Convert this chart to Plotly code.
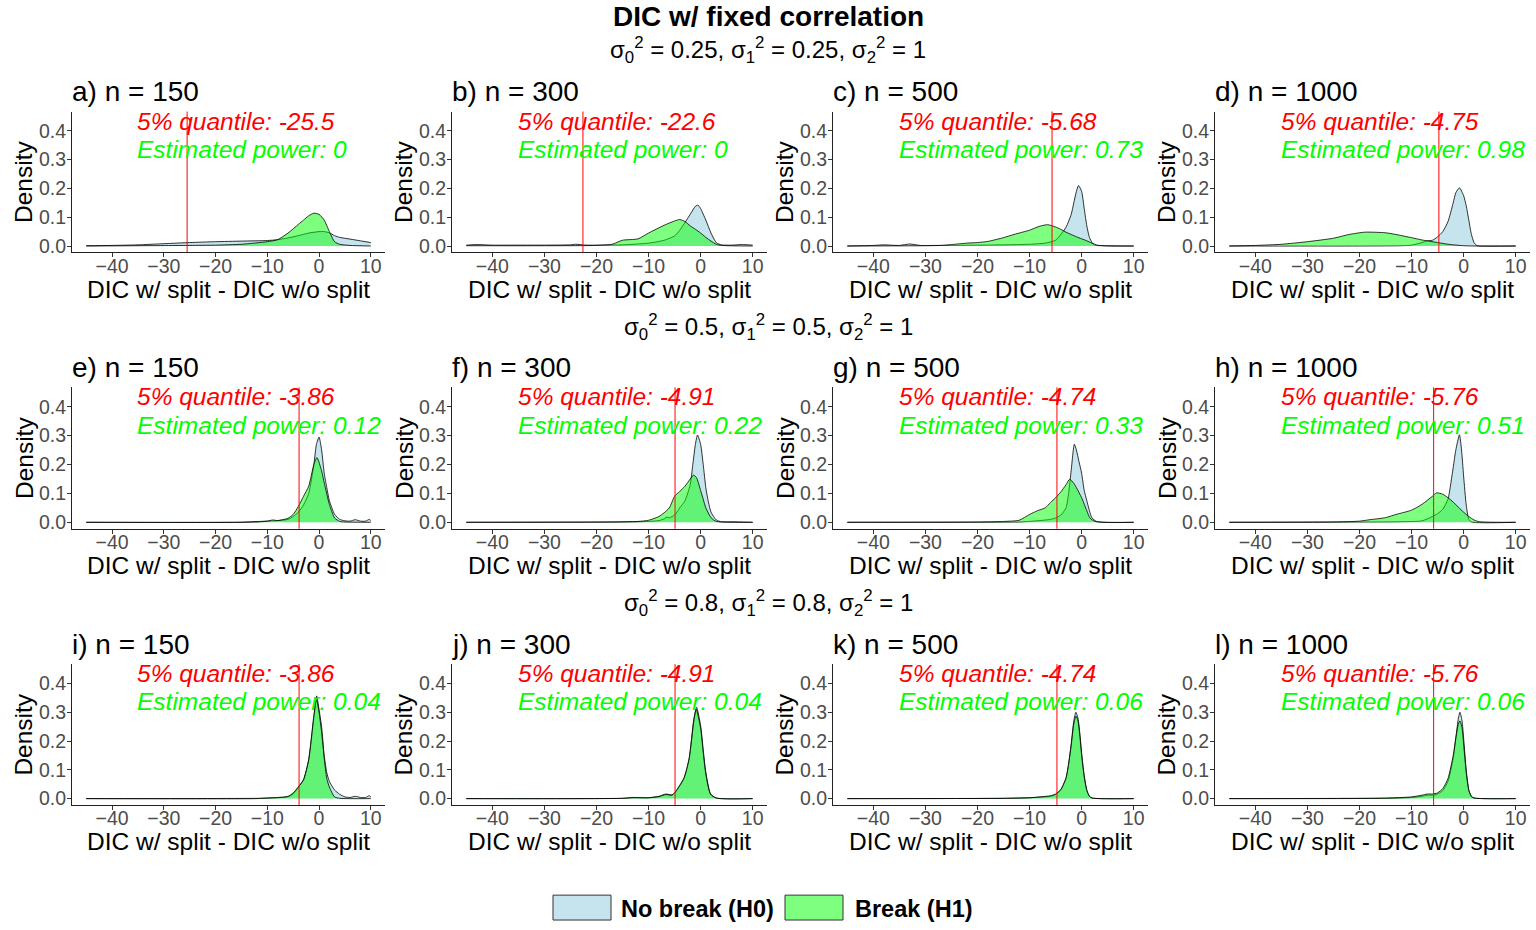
import plotly.graph_objects as go

# ---------------- data ----------------
panel_letters = ["a", "b", "c", "d", "e", "f", "g", "h", "i", "j", "k", "l"]
sample_sizes = [150, 300, 500, 1000]
row_sigma01 = ["0.25", "0.5", "0.8"]
sigma2_value = "1"
quantile_labels = ["-25.5", "-22.6", "-5.68", "-4.75", "-3.86", "-4.91",
                   "-4.74", "-5.76", "-3.86", "-4.91", "-4.74", "-5.76"]
power_labels = ["0", "0", "0.73", "0.98", "0.12", "0.22",
                "0.33", "0.51", "0.04", "0.04", "0.06", "0.06"]
x_ticks = [-40, -30, -20, -10, 0, 10]
y_ticks = [0.0, 0.1, 0.2, 0.3, 0.4]
y_tick_labels = ["0.0", "0.1", "0.2", "0.3", "0.4"]

# a) n = 150, sigma 0.25
h0_x_a = [-45, -40, -35, -30, -25, -20, -15, -10, -8, -6, -4, -2, 0, 1, 2, 3, 4, 6, 8, 10]
h0_y_a = [0.001, 0.002, 0.004, 0.008, 0.012, 0.015, 0.017, 0.019, 0.022, 0.028, 0.036, 0.045,
          0.05, 0.05, 0.046, 0.036, 0.03, 0.024, 0.018, 0.012]
h1_x_a = [-45, -35, -25, -20, -15, -12, -10, -8, -6, -4, -3, -2, -1, 0, 1, 2, 3, 4, 6, 10]
h1_y_a = [0.0, 0.001, 0.002, 0.003, 0.006, 0.011, 0.015, 0.022, 0.045, 0.075, 0.09, 0.105,
          0.114, 0.11, 0.09, 0.05, 0.015, 0.006, 0.002, 0.0]
# b) n = 300
h0_x_b = [-45, -43, -40, -35, -30, -25, -24, -22, -20, -15, -10, -7, -5, -4, -3, -2, -1, -0.5,
          0, 1, 2, 3, 4, 6, 8, 10]
h0_y_b = [0.003, 0.005, 0.003, 0.003, 0.003, 0.004, 0.006, 0.003, 0.003, 0.004, 0.01, 0.02,
          0.035, 0.055, 0.082, 0.11, 0.138, 0.142, 0.13, 0.09, 0.045, 0.012, 0.004, 0.003,
          0.005, 0.003]
h1_x_b = [-45, -30, -20, -17, -15, -12, -10, -7, -5, -4, -3, -2, -1, 0, 1, 2, 3, 4, 10]
h1_y_b = [0.001, 0.001, 0.002, 0.006, 0.02, 0.025, 0.045, 0.072, 0.087, 0.092, 0.085, 0.07,
          0.058, 0.045, 0.03, 0.017, 0.006, 0.002, 0.0]
# c) n = 500
h0_x_c = [-45, -40, -38, -35, -33, -31, -28, -25, -20, -15, -10, -7, -5, -4, -3, -2, -1.5, -1,
          -0.6, 0, 0.5, 1, 1.5, 2, 2.5, 5, 10]
h0_y_c = [0.0, 0.002, 0.004, 0.002, 0.007, 0.002, 0.002, 0.002, 0.003, 0.004, 0.006, 0.01,
          0.02, 0.04, 0.065, 0.11, 0.15, 0.19, 0.21, 0.19, 0.13, 0.07, 0.03, 0.012, 0.003,
          0.001, 0.0]
h1_x_c = [-45, -30, -27, -25, -22, -20, -18, -15, -13, -10, -8, -6.5, -5, -4, -3, -2, -1, 0,
          1, 2, 3, 5, 10]
h1_y_c = [0.0, 0.001, 0.002, 0.005, 0.01, 0.012, 0.016, 0.029, 0.04, 0.055, 0.069, 0.074,
          0.066, 0.058, 0.048, 0.04, 0.032, 0.025, 0.018, 0.01, 0.003, 0.0, 0.0]
# d) n = 1000
h0_x_d = [-45, -20, -12, -10, -8, -7, -6, -5, -4, -3, -2, -1.5, -0.8, 0, 0.5, 1, 1.5, 2, 2.5,
          3, 10]
h0_y_d = [0.0, 0.0, 0.001, 0.003, 0.012, 0.018, 0.02, 0.032, 0.05, 0.085, 0.15, 0.185, 0.202,
          0.175, 0.14, 0.09, 0.04, 0.012, 0.002, 0.0, 0.0]
h1_x_d = [-45, -40, -35, -30, -25, -22, -19, -15, -13, -10, -8, -5, -3, 0, 2, 10]
h1_y_d = [0.0, 0.002, 0.006, 0.015, 0.027, 0.04, 0.048, 0.046, 0.04, 0.029, 0.021, 0.012,
          0.006, 0.001, 0.0, 0.0]
# e) n = 150, sigma 0.5
h0_x_e = [-45, -15, -13, -10, -8, -6, -5, -4, -3, -2, -1, -0.5, 0, 0.5, 1, 1.5, 2, 3, 4, 5, 6,
          7, 8, 9, 9.7, 10]
h0_y_e = [0.0, 0.0, 0.002, 0.004, 0.006, 0.01, 0.02, 0.035, 0.06, 0.1, 0.2, 0.27, 0.295, 0.25,
          0.17, 0.12, 0.075, 0.028, 0.01, 0.005, 0.004, 0.009, 0.004, 0.004, 0.01, 0.006]
h1_x_e = [-45, -12, -10, -9, -8, -7, -6, -5, -4, -3, -2, -1, -0.4, 0.5, 1, 2, 3, 4, 5, 10]
h1_y_e = [0.0, 0.001, 0.004, 0.008, 0.006, 0.009, 0.014, 0.027, 0.055, 0.09, 0.125, 0.2,
          0.224, 0.178, 0.137, 0.062, 0.015, 0.003, 0.001, 0.0]
# f) n = 300
h0_x_f = [-45, -15, -10, -8, -7, -6.5, -6, -5, -4, -3, -2, -1.5, -1, -0.6, 0, 0.5, 1, 1.5, 2,
          3, 4, 6, 10]
h0_y_f = [0.0, 0.001, 0.003, 0.006, 0.012, 0.018, 0.016, 0.025, 0.05, 0.075, 0.13, 0.2, 0.27,
          0.302, 0.27, 0.2, 0.12, 0.07, 0.035, 0.008, 0.002, 0.002, 0.0]
h1_x_f = [-45, -18, -12, -10, -8, -7, -6, -5, -4, -3, -2, -1.4, -0.8, 0, 0.5, 1, 2, 3, 10]
h1_y_f = [0.0, 0.001, 0.003, 0.007, 0.02, 0.033, 0.05, 0.09, 0.107, 0.125, 0.15, 0.163,
          0.155, 0.11, 0.08, 0.05, 0.016, 0.003, 0.0]
# g) n = 500
h0_x_g = [-45, -12, -10, -8, -6, -5, -4, -3, -2.5, -2, -1.4, -1, -0.5, 0, 0.5, 1, 1.5, 2, 3, 10]
h0_y_g = [0.0, 0.001, 0.003, 0.006, 0.01, 0.015, 0.025, 0.05, 0.1, 0.18, 0.27, 0.25, 0.21,
          0.17, 0.11, 0.075, 0.04, 0.015, 0.002, 0.0]
h1_x_g = [-45, -20, -15, -12, -10, -8.5, -7, -6, -5, -4, -3, -2.3, -1.5, -1, 0, 1, 1.6, 2.6, 10]
h1_y_g = [0.0, 0.001, 0.003, 0.007, 0.027, 0.04, 0.05, 0.068, 0.085, 0.105, 0.13, 0.149,
          0.135, 0.12, 0.085, 0.04, 0.015, 0.003, 0.0]
# h) n = 1000
h0_x_h = [-45, -12, -8, -6, -5, -4, -3, -2.5, -2, -1.5, -0.8, -0.4, 0, 0.5, 1, 1.5, 10]
h0_y_h = [0.0, 0.002, 0.005, 0.02, 0.03, 0.045, 0.08, 0.13, 0.19, 0.25, 0.303, 0.25, 0.16,
          0.06, 0.01, 0.001, 0.0]
h1_x_h = [-45, -25, -20, -18, -15, -13, -10, -8, -6, -5.2, -4, -3, -2, -1, 0, 1, 2, 3, 10]
h1_y_h = [0.0, 0.001, 0.004, 0.009, 0.016, 0.027, 0.042, 0.062, 0.09, 0.102, 0.097, 0.085,
          0.07, 0.052, 0.035, 0.02, 0.008, 0.002, 0.0]
# i) n = 150, sigma 0.8
h0_x_i = [-45, -12, -10, -8, -6, -5, -4, -3, -2, -1, -0.45, 0, 0.5, 1, 1.5, 2, 3, 4, 5, 6, 7,
          8, 9, 9.7, 10]
h0_y_i = [0.0, 0.0, 0.002, 0.003, 0.006, 0.016, 0.04, 0.066, 0.135, 0.28, 0.357, 0.31, 0.25,
          0.15, 0.09, 0.06, 0.03, 0.015, 0.006, 0.004, 0.008, 0.004, 0.004, 0.01, 0.006]
h1_x_i = [-45, -12, -10, -8, -6, -5, -4, -3, -2, -1, -0.5, 0, 0.5, 1, 1.5, 2, 3, 4, 10]
h1_y_i = [0.0, 0.001, 0.002, 0.004, 0.008, 0.02, 0.04, 0.065, 0.135, 0.29, 0.345, 0.3, 0.23,
          0.14, 0.07, 0.04, 0.006, 0.001, 0.0]
# j) n = 300
h0_x_j = [-45, -15, -13, -10, -8, -6.7, -5.5, -4.8, -3.2, -2.2, -1.3, -0.77, 0, 0.5, 1, 1.9,
          3, 10]
h0_y_j = [0.0, 0.001, 0.004, 0.003, 0.008, 0.016, 0.013, 0.023, 0.069, 0.138, 0.277, 0.317,
          0.254, 0.17, 0.092, 0.017, 0.002, 0.0]
h1_x_j = [-45, -15, -13, -10, -8, -6.7, -5.5, -4.8, -3.2, -2.2, -1.3, -0.85, 0, 0.5, 1, 1.9,
          3, 10]
h1_y_j = [0.0, 0.001, 0.003, 0.003, 0.007, 0.014, 0.012, 0.025, 0.072, 0.14, 0.27, 0.31,
          0.245, 0.16, 0.085, 0.015, 0.002, 0.0]
# k) n = 500
h0_x_k = [-45, -15, -10, -8, -6, -5, -4, -3, -2.5, -2, -1.5, -1.1, -0.7, -0.3, 0, 0.5, 1, 1.5,
          2, 10]
h0_y_k = [0.0, 0.001, 0.003, 0.005, 0.008, 0.014, 0.03, 0.07, 0.12, 0.19, 0.27, 0.3, 0.28,
          0.22, 0.16, 0.08, 0.03, 0.008, 0.002, 0.0]
h1_x_k = [-45, -15, -10, -8, -6, -5, -4, -3, -2.5, -2, -1.5, -1.1, -0.7, -0.3, 0, 0.5, 1, 1.5,
          2, 10]
h1_y_k = [0.0, 0.001, 0.003, 0.006, 0.01, 0.016, 0.032, 0.072, 0.12, 0.185, 0.26, 0.287, 0.27,
          0.21, 0.15, 0.075, 0.028, 0.008, 0.002, 0.0]
# l) n = 1000
h0_x_l = [-45, -15, -10, -8, -7, -6, -5, -4, -3, -2, -1.5, -1, -0.7, -0.3, 0, 0.5, 1, 1.5, 2, 10]
h0_y_l = [0.0, 0.001, 0.004, 0.008, 0.012, 0.012, 0.016, 0.028, 0.06, 0.14, 0.21, 0.28, 0.3,
          0.27, 0.21, 0.1, 0.03, 0.008, 0.002, 0.0]
h1_x_l = [-45, -15, -10, -8, -7, -6, -5, -4, -3, -2, -1.5, -1, -0.7, -0.3, 0, 0.5, 1, 1.5, 2, 10]
h1_y_l = [0.0, 0.002, 0.006, 0.012, 0.016, 0.016, 0.02, 0.035, 0.07, 0.15, 0.21, 0.26, 0.27,
          0.245, 0.19, 0.09, 0.028, 0.007, 0.002, 0.0]

h0_x = [h0_x_a, h0_x_b, h0_x_c, h0_x_d, h0_x_e, h0_x_f, h0_x_g, h0_x_h, h0_x_i, h0_x_j, h0_x_k, h0_x_l]
h0_y = [h0_y_a, h0_y_b, h0_y_c, h0_y_d, h0_y_e, h0_y_f, h0_y_g, h0_y_h, h0_y_i, h0_y_j, h0_y_k, h0_y_l]
h1_x = [h1_x_a, h1_x_b, h1_x_c, h1_x_d, h1_x_e, h1_x_f, h1_x_g, h1_x_h, h1_x_i, h1_x_j, h1_x_k, h1_x_l]
h1_y = [h1_y_a, h1_y_b, h1_y_c, h1_y_d, h1_y_e, h1_y_f, h1_y_g, h1_y_h, h1_y_i, h1_y_j, h1_y_k, h1_y_l]

# ---------------- layout constants ----------------
W, H = 1536, 930
FONT = "Liberation Sans, Arial, sans-serif"
col_px = [(72, 385), (452, 767), (833, 1148), (1215, 1530)]
row_px = [(112, 253.5), (389, 531), (667, 808.5)]
subtitle_y = [50, 328, 606]
H0_FILL = "rgba(173,216,230,0.7)"
H1_FILL = "rgba(0,255,0,0.5)"


def px(x):
    return x / W


def py(y):
    return 1 - y / H


fig = go.Figure()
annotations = []
shapes = []
layout = {}

for k in range(12):
    r, c = divmod(k, 4)
    xa = "x" if k == 0 else f"x{k + 1}"
    ya = "y" if k == 0 else f"y{k + 1}"
    x0, x1 = col_px[c]
    y0, y1 = row_px[r]
    line_style = dict(color="black", width=0.8, shape="spline", smoothing=0.6)
    fig.add_trace(go.Scatter(x=h0_x[k], y=h0_y[k], mode="lines", line=line_style,
                             fill="tozeroy", fillcolor=H0_FILL, xaxis=xa, yaxis=ya,
                             showlegend=False, hoverinfo="skip"))
    fig.add_trace(go.Scatter(x=h1_x[k], y=h1_y[k], mode="lines", line=line_style,
                             fill="tozeroy", fillcolor=H1_FILL, xaxis=xa, yaxis=ya,
                             showlegend=False, hoverinfo="skip"))
    axis_common = dict(showgrid=False, zeroline=False, showline=True, linecolor="#222222",
                       linewidth=1, ticks="outside", ticklen=4, tickwidth=1,
                       tickcolor="#333333", tickfont=dict(family=FONT, size=19.5, color="#4D4D4D"))
    layout["xaxis" if k == 0 else f"xaxis{k + 1}"] = dict(
        domain=[px(x0), px(x1)], anchor=ya, range=[-47.75, 12.75], tickvals=x_ticks,
        ticklabelstandoff=-8, **axis_common)
    layout["yaxis" if k == 0 else f"yaxis{k + 1}"] = dict(
        domain=[py(y1), py(y0)], anchor=xa, range=[-0.02225, 0.46725], tickvals=y_ticks,
        ticktext=y_tick_labels, ticklabelstandoff=-3, **axis_common)
    q = float(quantile_labels[k])
    shapes.append(dict(type="line", xref=xa, yref=f"{ya} domain", x0=q, x1=q, y0=0, y1=1,
                       line=dict(color="red", width=1), layer="above"))
    annotations.append(dict(xref=xa, yref=ya, x=-35.5, y=0.434, xanchor="left", yanchor="middle",
                            text=f"<i>5% quantile: {quantile_labels[k]}</i>", showarrow=False,
                            font=dict(family=FONT, size=24.5, color="#FF0000")))
    annotations.append(dict(xref=xa, yref=ya, x=-35.5, y=0.336, xanchor="left", yanchor="middle",
                            text=f"<i>Estimated power: {power_labels[k]}</i>", showarrow=False,
                            font=dict(family=FONT, size=24.5, color="#00FF00")))
    # panel title
    annotations.append(dict(xref="paper", yref="paper", x=px(x0 - 2), y=py(y0 - 20),
                            xanchor="left", yanchor="middle", showarrow=False,
                            text=f"{panel_letters[k]}) n = {sample_sizes[c]}",
                            font=dict(family=FONT, size=28, color="black")))
    # axis titles
    annotations.append(dict(xref="paper", yref="paper", x=px((x0 + x1) / 2), y=py(y1 + 37),
                            xanchor="center", yanchor="middle", showarrow=False,
                            text="DIC w/ split - DIC w/o split",
                            font=dict(family=FONT, size=24.5, color="black")))
    annotations.append(dict(xref="paper", yref="paper", x=px(x0 - 48), y=py((y0 + y1) / 2),
                            xanchor="center", yanchor="middle", showarrow=False, textangle=-90,
                            text="Density", font=dict(family=FONT, size=24.5, color="black")))

# row subtitles
for r in range(3):
    s = row_sigma01[r]
    txt = (f"σ<sub>0</sub><sup>2</sup> = {s}, σ<sub>1</sub><sup>2</sup> = {s}, "
           f"σ<sub>2</sub><sup>2</sup> = {sigma2_value}")
    annotations.append(dict(xref="paper", yref="paper", x=0.5, y=py(subtitle_y[r]),
                            xanchor="center", yanchor="middle", showarrow=False, text=txt,
                            font=dict(family=FONT, size=24, color="black")))

# main title
annotations.append(dict(xref="paper", yref="paper", x=0.5, y=py(17), xanchor="center",
                        yanchor="middle", showarrow=False, text="<b>DIC w/ fixed correlation</b>",
                        font=dict(family=FONT, size=28, color="black")))

# legend (drawn as keys + labels)
legend_items = [("No break (H0)", H0_FILL, 553, 619), ("Break (H1)", H1_FILL, 785, 853)]
for label, color, kx, tx in legend_items:
    shapes.append(dict(type="rect", xref="paper", yref="paper", x0=px(kx), x1=px(kx + 58),
                       y0=py(924), y1=py(899), fillcolor=color,
                       line=dict(color="#333333", width=1)))
    annotations.append(dict(xref="paper", yref="paper", x=px(tx), y=py(913), xanchor="left",
                            yanchor="middle", showarrow=False, text=f"<b>{label}</b>",
                            font=dict(family=FONT, size=23.5, color="black")))

fig.update_layout(width=W, height=H, margin=dict(l=0, r=0, t=0, b=0),
                  paper_bgcolor="white", plot_bgcolor="white",
                  font=dict(family=FONT), annotations=annotations, shapes=shapes,
                  showlegend=False, **layout)
fig.write_html("out.html")
